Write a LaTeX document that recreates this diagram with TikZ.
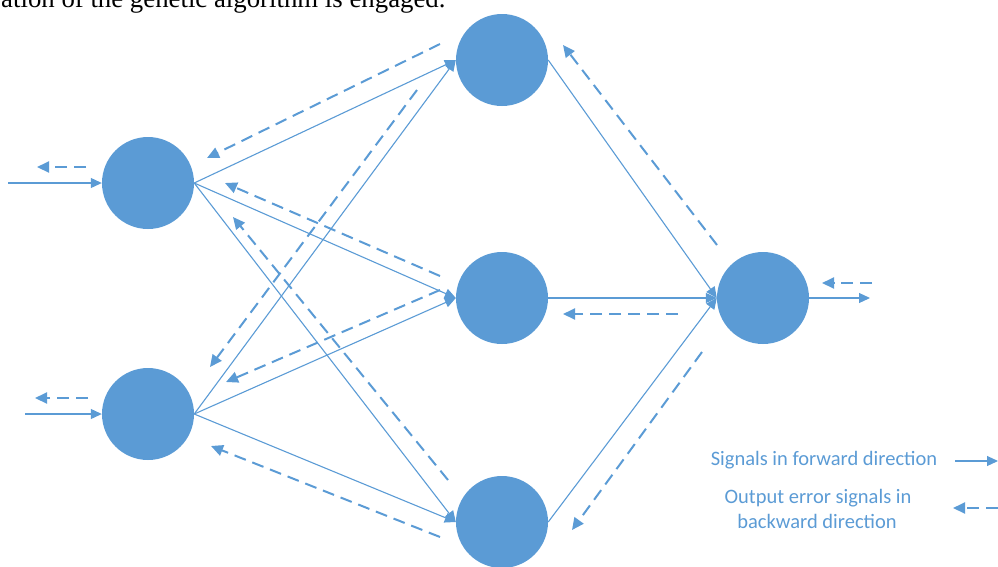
\documentclass[tikz,border=0pt]{standalone}
\usepackage{fontspec}
\setmainfont{Liberation Serif}
\newfontfamily\legendfont{Carlito}
\usetikzlibrary{arrows.meta}
\definecolor{netblue}{HTML}{5B9BD5}
\begin{document}
\begin{tikzpicture}[x=1pt,y=-1pt,
  neuron/.style={circle, fill=netblue, minimum size=92pt, inner sep=0pt},
  fwd/.style={draw=netblue, line width=1.1pt, -{Triangle[length=11pt,width=10pt]}},
  bwd/.style={draw=netblue, line width=2pt, dash pattern=on 12pt off 7pt,
    -{Triangle[length=12pt,width=11pt]}},
  legendtext/.style={font=\legendfont\fontsize{20.5}{25}\selectfont, text=netblue,
    anchor=base, inner sep=0pt}
]
\useasboundingbox (0,0) rectangle (998,566);

% caption line running above the figure
\node[anchor=base west, inner sep=0pt, font=\fontsize{26.8}{30}\selectfont] (cap)
  at (1,7) {ation of the genetic algorithm is engaged.};

% neurons: two inputs, three hidden, one output
\node[neuron] (I1) at (148,183) {};
\node[neuron] (I2) at (148,414) {};
\node[neuron] (H1) at (502,60) {};
\node[neuron] (H2) at (502,298) {};
\node[neuron] (H3) at (502,522) {};
\node[neuron] (O)  at (763,298) {};

% free ends of the input and output signals
\coordinate (in1) at (8,183);
\coordinate (in2) at (25,414);
\coordinate (out) at (870,298);

% forward signals
\draw[fwd] (in1) -- (I1.west);
\draw[fwd] (in2) -- (I2.west);
\foreach \s in {I1,I2}
  \foreach \t in {H1,H2,H3}
    \draw[fwd] (\s.east) -- (\t.west);
\foreach \s in {H1,H2,H3}
  \draw[fwd] (\s.east) -- (O.west);
\draw[fwd] (O.east) -- (out);

% error signals travelling backwards, beside each connection
\coordinate (b1s) at (440,44);   \coordinate (b1e) at (207,158);
\coordinate (b2s) at (417,90);   \coordinate (b2e) at (210,367);
\coordinate (b3s) at (440,276);  \coordinate (b3e) at (225,183);
\coordinate (b4s) at (440,290);  \coordinate (b4e) at (226,382);
\coordinate (b5s) at (448,480);  \coordinate (b5e) at (233,217);
\coordinate (b6s) at (440,537);  \coordinate (b6e) at (211,446);
\coordinate (b7s) at (717,245);  \coordinate (b7e) at (563,45);
\coordinate (b8s) at (678,314);  \coordinate (b8e) at (563,314);
\coordinate (b9s) at (702,352);  \coordinate (b9e) at (572,530);
\coordinate (b10s) at (872,283); \coordinate (b10e) at (822,283);
\coordinate (b11s) at (86,167);  \coordinate (b11e) at (37,167);
\coordinate (b12s) at (88,398);  \coordinate (b12e) at (35,398);
\foreach \i in {1,...,12}
  \draw[bwd] (b\i s) -- (b\i e);

% legend
\node[legendtext] (lg1) at (824,465) {Signals in forward direction};
\node[legendtext] (lg2) at (818,503) {Output error signals in};
\node[legendtext] (lg3) at (817,528) {backward direction};
\coordinate (lf1) at (955,461); \coordinate (lf2) at (998,461);
\coordinate (lb1) at (998,508); \coordinate (lb2) at (953,508);
\draw[fwd] (lf1) -- (lf2);
\draw[bwd] (lb1) -- (lb2);
\end{tikzpicture}
\end{document}
